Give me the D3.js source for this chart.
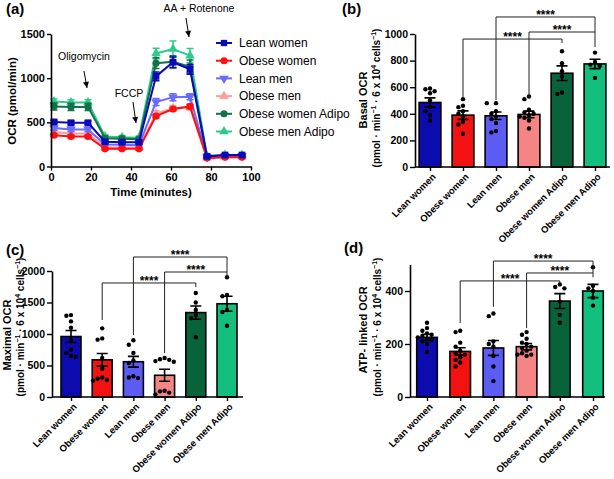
<!DOCTYPE html>
<html><head><meta charset="utf-8">
<script src="https://cdn.jsdelivr.net/npm/d3@7"></script>
<style>body{margin:0;background:#fff}svg{display:block;font-family:"Liberation Sans",Arial,sans-serif}</style>
</head><body>
<script>
// ---------- DATA ----------
const groups = ["Lean women","Obese women","Lean men","Obese men","Obese women Adipo","Obese men Adipo"];
const groupColors = ["#0c0cae","#f31212","#5c5cf4","#f58585","#08633b","#12bf7e"];
const lineColors  = ["#0a0ab8","#ff1010","#6a6aff","#ff9c9c","#13704a","#2ccb8c"];
const symbols = ["square","circle","triangleDown","triangle","circle","triangle"];

// panel (a) time course
const times = [1.5,10,18.5,27,35.5,44,52.5,61,69.5,78,87,95.5];
const xTicksA = [0,20,40,60,80,100];
const yTicksA = [0,500,1000,1500];
const ocrLeanWomen   = [505,495,495,280,275,275,1020,1180,1100,115,130,130];
const ocrObeseWomen  = [355,340,340,200,200,200,570,650,680,95,105,105];
const ocrLeanMen     = [435,420,420,250,245,240,730,785,790,110,120,120];
const ocrObeseMen    = [390,375,375,220,215,215,600,660,670,100,110,110];
const ocrObeseWomenA = [680,675,675,320,315,310,1170,1185,1130,110,125,125];
const ocrObeseMenA   = [735,725,725,340,330,325,1280,1330,1255,120,130,130];
const semLeanWomen   = [20,20,20,20,20,20,50,60,55,10,10,10];
const semObeseWomen  = [15,15,15,15,12,12,20,20,25,8,8,8];
const semLeanMen     = [25,25,25,15,15,15,40,40,35,10,10,10];
const semObeseMen    = [20,20,20,15,15,15,30,30,30,10,10,10];
const semObeseWomenA = [40,40,40,25,25,20,60,70,75,10,10,10];
const semObeseMenA   = [30,30,30,20,20,20,60,90,80,10,10,10];

// panel (b) basal OCR
const basalMean = [485,390,385,395,705,775];
const basalSem  = [35,32,28,25,55,35];
const basalPts = [
 [590,585,570,555,500,450,420,390,350],
 [510,460,450,420,400,380,340,320,250],
 [480,480,420,400,380,360,330,270,260],
 [530,510,430,410,400,390,380,370,350,290],
 [870,780,720,680,560,550],
 [860,790,770,760,670]];
const basalTicks = [0,200,400,600,800,1000];
// brackets: [from, to, line level, left end, right end]
const basalBrackets = [[1,4,962,519,932],[3,5,1015,526,902],[2,5,1128,504,1015]];

// panel (c) maximal OCR
const maxMean = [960,590,560,345,1340,1480];
const maxSem  = [95,100,85,95,105,120];
const maxPts = [
 [1300,1290,1200,1100,900,750,700,650,640],
 [1090,930,910,620,450,310,290,270,260],
 [900,830,700,580,540,330,310,300],
 [620,600,590,570,560,100,90,70,40],
 [1650,1500,1380,1300,1250,950],
 [1900,1620,1600,1380,1350,1130]];
const maxTicks = [0,500,1000,1500,2000];
const maxBrackets = [[1,4,1810,1222,1746],[3,5,1984,698,1889],[2,5,2222,984,1984]];

// panel (d) ATP-linked OCR
const atpMean = [225,172,185,190,362,400];
const atpSem  = [12,14,28,12,28,25];
const atpPts = [
 [280,260,250,240,235,230,225,220,215,210,200,170],
 [250,245,205,190,175,165,160,150,140,130,115],
 [315,305,210,200,190,155,115,60],
 [245,235,220,205,200,190,185,175,165,160,160,155],
 [425,415,410,360,310,280],
 [490,420,410,400,375,345]];
const atpTicks = [0,200,400];
const atpBrackets = [[1,4,438,279,430],[3,5,468,260,452],[2,5,513,340,468]];

// ---------- DRAW ----------
const svg = d3.select("body").append("svg").attr("width",614).attr("height",479);
svg.append("rect").attr("width",614).attr("height",479).attr("fill","#fff");
const FONT = '"Liberation Sans",Arial,sans-serif';

function styleAxis(g, size){
  g.selectAll("path.domain").attr("stroke","#000").attr("stroke-width",1.6);
  g.selectAll(".tick line").attr("stroke","#000").attr("stroke-width",1.4);
  g.selectAll(".tick text").attr("font-family",FONT).attr("font-weight","bold").attr("font-size",size).attr("fill","#000");
}
function symPath(type,size){
  const map = {square:d3.symbolSquare,circle:d3.symbolCircle,triangle:d3.symbolTriangle,triangleDown:d3.symbolTriangle};
  return d3.symbol().type(map[type]).size(size)();
}
function tag(x,y,t){
  svg.append("text").attr("x",x).attr("y",y).attr("font-family",FONT).attr("font-weight","bold")
    .attr("font-size",15).text(t);
}

// ---- panel (a)
const xA = d3.scaleLinear().domain([0,100]).range([51,251]);
const yA = d3.scaleLinear().domain([0,1500]).range([166.5,34]);
const gA = svg.append("g");
const series = [
 {name:groups[0],v:ocrLeanWomen,s:semLeanWomen},
 {name:groups[1],v:ocrObeseWomen,s:semObeseWomen},
 {name:groups[2],v:ocrLeanMen,s:semLeanMen},
 {name:groups[3],v:ocrObeseMen,s:semObeseMen},
 {name:groups[4],v:ocrObeseWomenA,s:semObeseWomenA},
 {name:groups[5],v:ocrObeseMenA,s:semObeseMenA}];
const line = d3.line().x((d,i)=>xA(times[i])).y(d=>yA(d));
series.map((s,k)=>({...s,k})).reverse().forEach(s=>{
  const c = lineColors[s.k];
  const g = gA.append("g");
  g.append("path").attr("d",line(s.v)).attr("fill","none").attr("stroke",c).attr("stroke-width",2);
  s.v.forEach((v,i)=>{
    const x = xA(times[i]);
    g.append("path").attr("d",`M${x},${yA(v-s.s[i])}V${yA(v+s.s[i])}M${x-3.5},${yA(v+s.s[i])}H${x+3.5}M${x-3.5},${yA(v-s.s[i])}H${x+3.5}`)
      .attr("stroke",c).attr("stroke-width",1.5).attr("fill","none");
    g.append("path").attr("d",symPath(symbols[s.k],s.k===0?46:40))
      .attr("transform",`translate(${x},${yA(v)})`+(symbols[s.k]==="triangleDown"?" rotate(180)":""))
      .attr("fill",c);
  });
});
const axAy = gA.append("g").attr("transform","translate(51,0)")
  .call(d3.axisLeft(yA).tickValues(yTicksA).tickSize(4).tickSizeOuter(0).tickPadding(2).tickFormat(d3.format("d")));
styleAxis(axAy,11);
const axAx = gA.append("g").attr("transform","translate(0,166.5)")
  .call(d3.axisBottom(xA).tickValues(xTicksA).tickSize(4).tickSizeOuter(0).tickPadding(3));
styleAxis(axAx,11);
gA.append("text").attr("transform","translate(16,101) rotate(-90)").attr("text-anchor","middle")
  .attr("font-family",FONT).attr("font-weight","bold").attr("font-size",11.5).text("OCR (pmol/min)");
gA.append("text").attr("x",151).attr("y",196).attr("text-anchor","middle")
  .attr("font-family",FONT).attr("font-weight","bold").attr("font-size",11.5).text("Time (minutes)");
// annotations
function annot(tx,ty,t,x1,y1,x2,y2){
  gA.append("text").attr("x",tx).attr("y",ty).attr("text-anchor","middle").attr("font-family",FONT)
    .attr("font-size",10.5).text(t);
  gA.append("line").attr("x1",x1).attr("y1",y1).attr("x2",x2).attr("y2",y2).attr("stroke","#000").attr("stroke-width",1);
  const ang = Math.atan2(y2-y1,x2-x1)*180/Math.PI;
  gA.append("path").attr("d","M0,0L-6,-3L-6,3Z").attr("transform",`translate(${x2},${y2}) rotate(${ang})`).attr("fill","#000");
}
annot(84,60,"Oligomycin",84,71,87,88);
annot(129,97,"FCCP",133,102,136,123);
annot(199,12,"AA + Rotenone",186,18,189,37);
// legend
groups.forEach((g,i)=>{
  const y = 43 + i*17.7;
  gA.append("line").attr("x1",216).attr("x2",232).attr("y1",y).attr("y2",y).attr("stroke",lineColors[i]).attr("stroke-width",2);
  gA.append("path").attr("d",symPath(symbols[i],40))
    .attr("transform",`translate(224,${y})`+(symbols[i]==="triangleDown"?" rotate(180)":"")).attr("fill",lineColors[i]);
  gA.append("text").attr("x",239).attr("y",y+4.2).attr("font-family",FONT).attr("font-size",12).text(g);
});
tag(6,14,"(a)");

// ---- bar panels
function swarm(vals, y, r){
  const placed = [];
  const sorted = vals.map(v=>v).sort((a,b)=>b-a);
  return sorted.map(v=>{
    const py = y(v);
    const cands = [0,-4.6,4.6,-9.2,9.2,-13.8,13.8];
    let off = 0;
    for(const c of cands){
      if(placed.every(p=>Math.hypot(p.x-c,p.y-py)>=r*2.1)){off=c;break;}
    }
    placed.push({x:off,y:py});
    return {v, off};
  });
}
function barPanel(o){
  const g = svg.append("g");
  const x = d3.scalePoint().domain(groups).range(o.xRange);
  const y = d3.scaleLinear().domain(o.yDomain).range(o.yRange);
  const bw = x.step()*o.bw;
  groups.forEach((c,i)=>{
    const cx = x(c);
    g.append("rect").attr("x",cx-bw/2).attr("y",y(o.mean[i])).attr("width",bw).attr("height",y(0)-y(o.mean[i]))
      .attr("fill",groupColors[i]).attr("stroke","#000").attr("stroke-width",1.6);
    const top=y(o.mean[i]+o.sem[i]), bot=y(o.mean[i]-o.sem[i]);
    g.append("path").attr("d",`M${cx},${bot}V${top}M${cx-5.5},${top}H${cx+5.5}M${cx-5.5},${bot}H${cx+5.5}`)
      .attr("stroke","#000").attr("stroke-width",1.6).attr("fill","none");
    swarm(o.pts[i],y,2.2).forEach(p=>{
      g.append("circle").attr("cx",cx+p.off).attr("cy",y(p.v)).attr("r",2.2).attr("fill","#000");
    });
  });
  // axes
  const ay = g.append("g").attr("transform",`translate(${o.axisX},0)`)
    .call(d3.axisLeft(y).tickValues(o.ticks).tickSize(5).tickSizeOuter(0).tickPadding(2).tickFormat(d3.format("d")));
  styleAxis(ay,10.5);
  g.append("line").attr("x1",o.axisX).attr("x2",o.axisEnd).attr("y1",y(0)).attr("y2",y(0)).attr("stroke","#000").attr("stroke-width",1.6);
  const ax = g.append("g").attr("transform",`translate(0,${y(0)})`)
    .call(d3.axisBottom(x).tickSize(4).tickSizeOuter(0).tickFormat(""));
  ax.select("path.domain").remove();
  ax.selectAll(".tick line").attr("stroke","#000").attr("stroke-width",1.4);
  groups.forEach(c=>{
    g.append("text").attr("transform",`translate(${x(c)+4},${y(0)+8}) rotate(-45)`)
      .attr("text-anchor","end").attr("dy","0.35em").attr("font-family",FONT).attr("font-weight","bold")
      .attr("font-size",9.5).text(c);
  });
  // brackets
  o.brackets.forEach(b=>{
    const x1=x(groups[b[0]]), x2=x(groups[b[1]]);
    g.append("path").attr("d",`M${x1},${y(b[3])}V${y(b[2])}H${x2}V${y(b[4])}`)
      .attr("fill","none").attr("stroke","#222").attr("stroke-width",1);
    g.append("text").attr("x",(x1+x2)/2).attr("y",y(b[2])+2).attr("text-anchor","middle")
      .attr("font-family",FONT).attr("font-weight","bold").attr("font-size",12).text("****");
  });
  // y titles
  g.append("text").attr("transform",`translate(${o.t1x},${o.tcy}) rotate(-90)`).attr("text-anchor","middle")
    .attr("font-family",FONT).attr("font-weight","bold").attr("font-size",11).text(o.title);
  const t2 = g.append("text").attr("transform",`translate(${o.t2x},${o.tcy2}) rotate(-90)`).attr("text-anchor","middle")
    .attr("font-family",FONT).attr("font-weight","bold").attr("font-size",10);
  const parts = [["(pmol · min",0],["−1",1],[" · 6 x 10",0],["4",1],[" cells",0],["−1",1],[")",0]];
  parts.forEach(p=>{
    t2.append("tspan").attr("font-size",p[1]?7:10).attr("baseline-shift",p[1]?"4":"0").text(p[0]);
  });
  tag(o.tag[0],o.tag[1],o.tag[2]);
}
barPanel({xRange:[430,595],yDomain:[0,1000],yRange:[167,34],bw:0.66,mean:basalMean,sem:basalSem,pts:basalPts,
  ticks:basalTicks,axisX:415,axisEnd:610,brackets:basalBrackets,title:"Basal OCR",t1x:367,t2x:380,tcy:100,tcy2:98,tag:[342,14,"(b)"]});
barPanel({xRange:[71,227],yDomain:[0,2000],yRange:[397,271],bw:0.64,mean:maxMean,sem:maxSem,pts:maxPts,
  ticks:maxTicks,axisX:52,axisEnd:243,brackets:maxBrackets,title:"Maximal OCR",t1x:11,t2x:24,tcy:335,tcy2:327,tag:[6,255,"(c)"]});
barPanel({xRange:[427,593],yDomain:[0,500],yRange:[397,264.5],bw:0.62,mean:atpMean,sem:atpSem,pts:atpPts,
  ticks:atpTicks,axisX:410,axisEnd:605,brackets:atpBrackets,title:"ATP- linked OCR",t1x:367,t2x:381,tcy:330,tcy2:327,tag:[344,253,"(d)"]});
</script>
</body></html>
